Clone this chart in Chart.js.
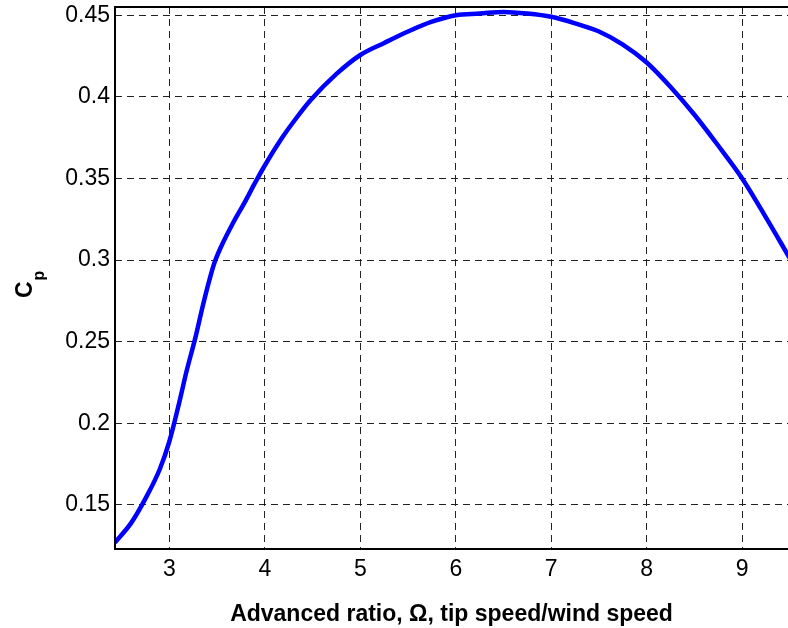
<!DOCTYPE html>
<html>
<head>
<meta charset="utf-8">
<script src="https://cdn.jsdelivr.net/npm/chart.js@4/dist/chart.umd.min.js"></script>
<style>
  html, body { margin: 0; padding: 0; background: #fff; }
  #wrap { width: 788px; height: 628px; }
</style>
</head>
<body>
<div id="wrap"><canvas id="Plot"></canvas></div>
<script>
// tip speed ratio
var tsr = [2.43, 2.6, 2.75, 2.9, 3.0, 3.1, 3.18, 3.27, 3.35, 3.42, 3.47, 3.54, 3.665, 3.79, 3.89, 3.99,
           4.17, 4.33, 4.48, 4.75, 5.0, 5.25, 5.5, 5.75, 6.0, 6.25, 6.5, 6.75, 7.0, 7.25, 7.5, 7.75,
           8.0, 8.25, 8.5, 8.75, 9.0, 9.25, 9.5];
// power coefficient
var cp = [0.127, 0.139, 0.154, 0.172, 0.189, 0.212, 0.232, 0.252, 0.272, 0.288, 0.298, 0.308, 0.3225, 0.3355, 0.3465, 0.357,
          0.374, 0.387, 0.398, 0.414, 0.4256, 0.433, 0.440, 0.446, 0.450, 0.451, 0.452, 0.451, 0.449, 0.445, 0.440, 0.432,
          0.421, 0.406, 0.389, 0.370, 0.350, 0.326, 0.301];

var xTicks = [3, 4, 5, 6, 7, 8, 9];
var yTicks = [0.15, 0.2, 0.25, 0.3, 0.35, 0.4, 0.45];

var pts = tsr.map(function (x, i) { return {x: x, y: cp[i]}; });

var fam = '"Liberation Sans", Arial, Helvetica, sans-serif';

// axes box + rotated C_p label
var boxPlugin = {
  id: 'box',
  afterDraw: function (chart) {
    var c = chart.ctx, a = chart.chartArea;
    c.save();
    c.strokeStyle = '#000';
    c.lineWidth = 2;
    c.beginPath();
    c.moveTo(a.right + 2, a.top);
    c.lineTo(a.left, a.top);
    c.lineTo(a.left, a.bottom);
    c.lineTo(a.right + 2, a.bottom);
    c.stroke();
    c.restore();

    c.save();
    c.fillStyle = '#000';
    c.translate(32, 298);
    c.rotate(-Math.PI / 2);
    c.textAlign = 'left';
    c.textBaseline = 'alphabetic';
    c.font = 'bold 23px ' + fam;
    c.fillText('C', 0, 0);
    var w = c.measureText('C').width;
    c.font = 'bold 16px ' + fam;
    c.fillText('p', w + 1, 12);
    c.restore();
  }
};

var ctx = document.getElementById('Plot').getContext('2d');
var myChart = new Chart(ctx, {
  type: 'line',
  data: {
    datasets: [{
      data: pts,
      borderColor: '#0000ff',
      backgroundColor: '#0000ff',
      borderWidth: 4.5,
      pointRadius: 0,
      cubicInterpolationMode: 'monotone',
      fill: false
    }]
  },
  options: {
    responsive: true,
    maintainAspectRatio: false,
    animation: false,
    layout: { padding: { top: 7, left: 0, right: 0, bottom: 0 } },
    plugins: { legend: { display: false }, tooltip: { enabled: false } },
    scales: {
      x: {
        type: 'linear',
        min: 2.43,
        max: 9.48,
        afterFit: function (s) { s.height = 79; s.paddingLeft = 0; s.paddingRight = 0; },
        afterBuildTicks: function (s) { s.ticks = xTicks.map(function (v) { return {value: v}; }); },
        grid: { color: '#222', lineWidth: 1, drawTicks: false },
        border: { display: false, dash: [7, 5] },
        ticks: { color: '#000', padding: 7, font: { family: fam, size: 23 } },
        title: {
          display: true,
          text: 'Advanced ratio, \u03A9, tip speed/wind speed',
          color: '#000',
          padding: { top: 0, bottom: 0 },
          font: { family: fam, size: 23, weight: 'bold' }
        }
      },
      y: {
        min: 0.123,
        max: 0.455,
        afterFit: function (s) { s.width = 115; s.paddingTop = 0; s.paddingBottom = 0; },
        afterBuildTicks: function (s) { s.ticks = yTicks.map(function (v) { return {value: v}; }); },
        grid: { color: '#222', lineWidth: 1, drawTicks: false },
        border: { display: false, dash: [7, 5] },
        ticks: {
          color: '#000', padding: 5, font: { family: fam, size: 23 },
          callback: function (v) { return String(+v.toFixed(2)); }
        }
      }
    }
  },
  plugins: [boxPlugin]
});
</script>
</body>
</html>
